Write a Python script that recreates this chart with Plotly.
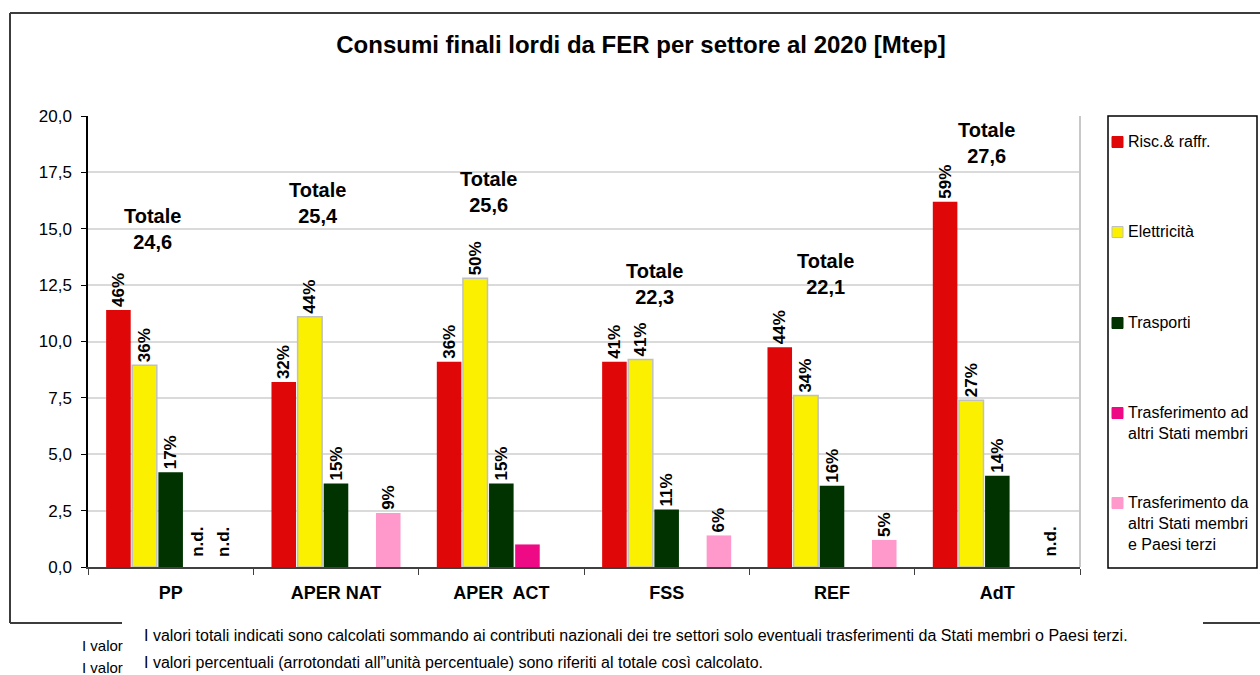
import plotly.graph_objects as go

# categories and values (Mtep)
settori = ["PP", "APER NAT", "APER  ACT", "FSS", "REF", "AdT"]
totali = ["24,6", "25,4", "25,6", "22,3", "22,1", "27,6"]

risc = [11.4, 8.2, 9.1, 9.1, 9.75, 16.2]
elettricita = [8.95, 11.1, 12.8, 9.2, 7.6, 7.4]
trasporti = [4.2, 3.7, 3.7, 2.55, 3.6, 4.05]
trasf_ad = [None, None, 1.0, None, None, None]
trasf_da = [None, 2.4, None, 1.4, 1.2, None]

pct_risc = ["46%", "32%", "36%", "41%", "44%", "59%"]
pct_elettricita = ["36%", "44%", "50%", "41%", "34%", "27%"]
pct_trasporti = ["17%", "15%", "15%", "11%", "16%", "14%"]
pct_trasf_ad = ["n.d.", "", "", "", "", ""]
pct_trasf_da = ["n.d.", "9%", "", "6%", "5%", "n.d."]

nomi = ["Risc.& raffr.", "Elettricità", "Trasporti",
        "Trasferimento ad<br>altri Stati membri",
        "Trasferimento da<br>altri Stati membri<br>e Paesi terzi"]
colori = ["#DF0707", "#FAF000", "#003300", "#EE0A84", "#FF99CC"]

# where the "Totale" labels sit (value axis) and their shift from the category centre
totale_y = [15.0, 16.15, 16.65, 12.55, 13.0, 18.8]
totale_dx = [-0.11, -0.11, -0.08, -0.076, -0.04, -0.066]

FONT = "Liberation Sans, Arial, sans-serif"

# plot area in pixels
L, R, T, B = 88, 1080, 116, 567


def px_x(p):
    return (p - L) / (R - L)


def px_y(p):
    return (B - p) / (B - T)


serie = [risc, elettricita, trasporti, trasf_ad, trasf_da]
testi = [pct_risc, pct_elettricita, pct_trasporti, pct_trasf_ad, pct_trasf_da]

fig = go.Figure()
for k, (vals, txt) in enumerate(zip(serie, testi)):
    shown = [t if v is not None else "" for v, t in zip(vals, txt)]
    fig.add_trace(go.Bar(
        x=settori, y=vals, name=nomi[k],
        marker=dict(color=colori[k],
                    line=dict(color="#C0C0C0" if k == 1 else colori[k], width=1.5 if k == 1 else 0)),
        text=shown, textposition="outside", textangle=-90,
        textfont=dict(family=FONT, size=17, color="black", weight="bold"),
        constraintext="none", cliponaxis=False, showlegend=False,
    ))

annotations = []

# n.d. labels for missing values
bargap = 0.21
for k, (vals, txt) in enumerate(zip(serie, testi)):
    for i, (v, t) in enumerate(zip(vals, txt)):
        if v is None and t == "n.d.":
            slot = (1 - bargap) / 5
            annotations.append(dict(
                x=i - (1 - bargap) / 2 + slot * (k + 0.5), y=0, xref="x", yref="y",
                text="<b>n.d.</b>", textangle=-90, showarrow=False,
                yanchor="bottom", yshift=8,
                font=dict(family=FONT, size=17, color="black")))

# Totale labels
for i, tot in enumerate(totali):
    annotations.append(dict(
        x=i + totale_dx[i], y=totale_y[i], xref="x", yref="y",
        text=f"<b>Totale<br>{tot}</b>", showarrow=False, yanchor="middle",
        font=dict(family=FONT, size=20, color="black")))

# legend drawn by hand
shapes = []
leg_y = [142, 232, 323, 413, 503]
shapes.append(dict(type="rect", xref="paper", yref="paper",
                   x0=px_x(1108), x1=px_x(1257), y0=px_y(568), y1=px_y(116),
                   line=dict(color="black", width=1.5), fillcolor="white"))
for k, yy in enumerate(leg_y):
    shapes.append(dict(type="rect", xref="paper", yref="paper",
                       x0=px_x(1112), x1=px_x(1123), y0=px_y(yy + 5.5), y1=px_y(yy - 5.5),
                       fillcolor=colori[k],
                       line=dict(color="#C0C0C0" if k == 1 else colori[k], width=1)))
    annotations.append(dict(
        x=px_x(1126), y=px_y(yy - 11), xref="paper", yref="paper",
        xanchor="left", yanchor="top", align="left", showarrow=False,
        text=nomi[k], font=dict(family=FONT, size=16, color="black")))

# outer frame (bottom edge interrupted by the notes)
frame = dict(color="#3C3C3C", width=2)
for x0, y0, x1, y1 in [(10, 13, 1275, 13), (10, 13, 10, 623),
                       (10, 623, 122, 623), (1203, 623, 1275, 623)]:
    shapes.append(dict(type="line", xref="paper", yref="paper",
                       x0=px_x(x0), y0=px_y(y0), x1=px_x(x1), y1=px_y(y1), line=frame))

# plot area right border
shapes.append(dict(type="line", xref="paper", yref="paper",
                   x0=1, x1=1, y0=0, y1=1, line=dict(color="#C8C8C8", width=2)))

# notes
note = ["I valori totali indicati sono calcolati sommando ai contributi nazionali dei tre settori "
        "solo eventuali trasferimenti da Stati membri o Paesi terzi.",
        "I valori percentuali (arrotondati all\u201dunità percentuale) sono riferiti al totale così calcolato."]
for text, yy in zip(note, [635, 662]):
    annotations.append(dict(x=px_x(142), y=px_y(yy), xref="paper", yref="paper",
                            xanchor="left", yanchor="middle", showarrow=False, text=text,
                            font=dict(family=FONT, size=16, color="black")))
for yy in [645, 667]:
    annotations.append(dict(x=px_x(80), y=px_y(yy), xref="paper", yref="paper",
                            xanchor="left", yanchor="middle", showarrow=False, text="I valor",
                            font=dict(family=FONT, size=15, color="black")))

fig.update_layout(
    width=1260, height=675,
    margin=dict(l=L, r=1260 - R, t=T, b=675 - B),
    paper_bgcolor="white", plot_bgcolor="white",
    separators=",.",
    barmode="group", bargap=bargap, bargroupgap=0.06,
    title=dict(text="<b>Consumi finali lordi da FER per settore al 2020 [Mtep]</b>",
               x=641 / 1260, xanchor="center", xref="container",
               y=1 - 45 / 675, yanchor="middle", yref="container",
               font=dict(family=FONT, size=24, color="black")),
    font=dict(family=FONT, color="black"),
    showlegend=False,
    shapes=shapes,
    annotations=annotations,
)
fig.update_yaxes(range=[0, 20], dtick=2.5, tick0=0, tickformat=".1f",
                 showgrid=True, gridcolor="#DADADA", gridwidth=1.5,
                 showline=True, linecolor="black", linewidth=1.5,
                 ticks="outside", ticklen=5, tickcolor="black", ticklabelstandoff=6,
                 tickfont=dict(family=FONT, size=17, color="black"), zeroline=False)
fig.update_xaxes(showline=True, linecolor="#404040", linewidth=2,
                 ticks="outside", tickson="boundaries", ticklen=6, tickcolor="#404040",
                 ticklabelstandoff=8,
                 tickfont=dict(family=FONT, size=18, color="black", weight="bold"))

# the page body has a default margin; drop it so the figure sits at the window corner
fig.write_html("out.html", config={"displayModeBar": False},
               post_script="document.body.style.margin='0';")
